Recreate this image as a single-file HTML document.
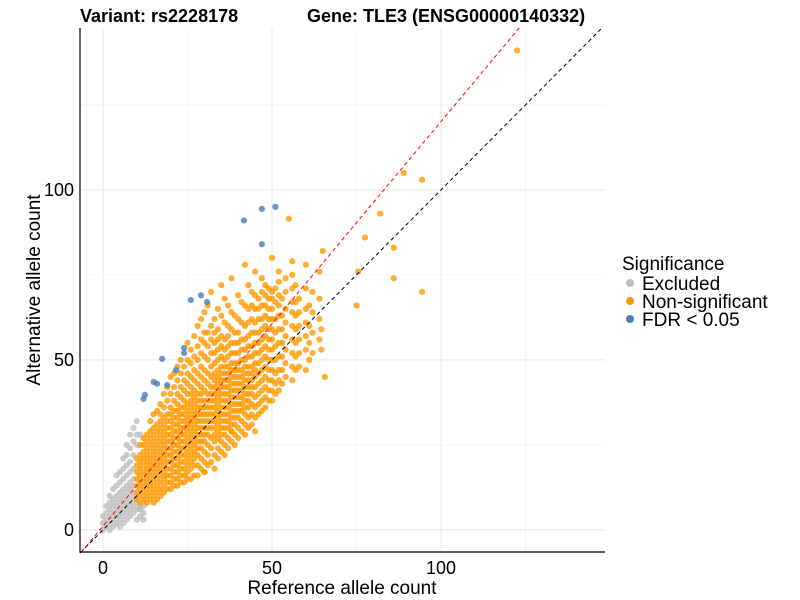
<!DOCTYPE html>
<html><head><meta charset="utf-8"><style>
body{margin:0;background:#fff}
svg{display:block;font-family:"Liberation Sans",sans-serif}
</style></head><body>
<svg id="chart" width="800" height="600">
<text x="80" y="22" font-size="18" font-weight="bold">Variant: rs2228178</text>
<text x="307" y="22" font-size="18" font-weight="bold">Gene: TLE3 (ENSG00000140332)</text>
<g id="grid"></g><g id="pts"></g><g id="lines"></g><g id="axes"></g>
<text x="342" y="594" font-size="19" text-anchor="middle">Reference allele count</text>
<text transform="translate(40,290) rotate(-90)" font-size="19" text-anchor="middle">Alternative allele count</text>
<g>
<text x="622" y="270" font-size="19">Significance</text>
<g><circle cx="630" cy="283" r="4" fill="#bebebe"/><text x="642" y="290" font-size="19">Excluded</text></g>
<g><circle cx="630" cy="301" r="4" fill="#ff9900"/><text x="642" y="308" font-size="19">Non-significant</text></g>
<g><circle cx="630" cy="319" r="4" fill="#4a7db5"/><text x="642" y="326" font-size="19">FDR &lt; 0.05</text></g>
</g>
</svg>
<script>
const xTicks=[0,50,100];
const yTicks=[0,50,100];
const minorTicks=[25,75,125];
const grayRefs=[0,1,2,3,4,5,6,7,8,9,10,11,12];
const grayAlts=[[0,2,4],[1,3,5,7],[0,2,4,6,8,10],[1,3,5,7,9,12],[2,4,6,8,10,13,16],[1,3,5,7,9,11,14,17],[2,4,6,8,10,12,15,18,21],[3,5,7,9,11,13,16,19,22,25],[4,6,8,10,12,14,17,20,24,28],[5,7,9,11,13,15,18,22,26,30],[3,6,8,10,25,28,32],[4,6,7,28],[5,7,8,3]];
const orangeRefs=[10,11,12,13,14,15,16,17,18,19,20,21,22,23,24,25,26,27,28,29,30,31,32,33,34,35,36,37,38,39,40,41,42,43,44,45,46,47,48,49,50,51,52,53,54,56,57,58,60,61,62,64];
const orangeAlts=[
[9,11,13,15,17,19,21],[8,10,12,14,16,18,20,22,25],[9,11,13,15,17,19,21,23,25,27],[8,10,12,14,16,18,20,22,24,26,28],
[9,11,13,15,17,19,21,23,25,27,29,32],[8,10,12,14,16,18,20,22,24,26,28,30,34],[9,11,13,15,17,19,21,23,25,27,29,31,35],
[10,12,14,16,18,20,22,24,26,28,30,32,34,37],[11,13,15,17,19,21,23,25,27,29,31,33,36,40],[12,14,16,18,20,22,24,26,28,30,32,34,38,42],
[12,14,16,18,20,22,24,26,28,30,32,34,36,40,45],[13,15,17,19,21,23,25,27,29,31,33,35,38,42,46],[13,15,17,19,21,23,25,27,29,31,33,35,37,40,44,48],
[14,16,18,20,22,24,26,28,30,32,34,36,39,42,46,50],[14,16,18,20,22,24,26,28,30,32,34,36,38,41,44,48],[15,17,19,21,23,25,27,29,31,33,35,37,40,43,46,50,55],
[15,18,20,22,24,26,28,30,32,34,36,38,40,42,45,49,53],[16,19,21,23,25,27,29,31,33,35,37,39,41,44,47,51,57],[16,19,22,24,26,28,30,32,34,36,38,40,43,46,50,54,60],
[18,21,24,26,28,30,32,34,36,38,40,42,45,48,52,56,62],[17,20,23,26,28,30,32,34,36,38,41,44,47,51,55,58,64],[19,22,25,28,30,32,34,36,38,40,43,46,50,54,58,66],
[20,24,27,30,32,34,36,38,40,42,45,48,52,56,60,70],[18,22,26,28,30,32,34,36,38,40,42,44,46,49,52,55,58,62],[21,24,27,29,31,33,35,37,39,41,43,45,47,50,53,56,59,65],
[23,26,28,30,32,34,36,38,40,42,44,46,48,51,54,57,63,72],[22,25,28,30,32,34,36,38,40,42,44,46,48,50,53,56,61,68],[24,27,30,32,34,36,38,40,42,44,46,48,51,54,57,60,66],
[26,29,31,33,35,37,39,41,43,45,47,49,52,55,59,64,74],[25,28,31,33,35,37,39,41,43,45,47,49,52,55,58,63],[27,30,33,35,37,39,41,43,45,47,49,52,55,58,62,69],
[29,32,35,37,39,41,43,45,47,50,53,56,61,67],[28,31,34,36,38,40,42,44,46,48,50,53,56,60,66,78],[30,33,36,38,40,42,44,46,48,51,54,57,61,65,72],
[31,34,37,40,42,44,46,48,51,54,58,62,66,70],[29,33,36,39,42,45,47,49,52,55,58,61,65,69,76],[34,37,40,43,46,49,52,55,58,62,65,68],[35,38,41,44,47,50,53,56,59,62,66,70,74],
[36,39,42,45,48,51,54,57,60,63,66,69,72],[38,41,44,47,50,53,56,59,62,65,68,71],[38,41,44,47,50,53,56,59,62,65,68,70,80],[40,43,46,50,54,58,62,67,71],[41,44,47,51,55,59,63,66,69,73,76],
[43,47,51,55,59,63,68],[45,49,53,57,61,65,70,74],[44,48,52,56,60,64,67,71,75,79],[47,51,55,59,63,67,72],[48,52,56,60,64,68],[47,53,57,61,65,71,78],[50,55,60,66],[52,58,64,70],[56,62,68]];
const outlierRefs=[122.5,89,94.4,82,86,86,94.4,75.5,77.5,75,55,65,64,64.6,64.6,65.6,38,30];
const outlierAlts=[141,105,103,93,83,74,70,76,86,66,91.5,82,76,59,53,45,29,17];
const blueRefs=[47,51,41.7,47,26,29,30.8,24,17.5,15,16,12.4,12,19,21.6,24];
const blueAlts=[94.4,95,91,84,67.6,69,67,53.5,50.3,43.5,43,39.7,38.5,42.6,47,52];
const redSlope=1.19, redIntercept=1.1;

const X0=80,X1=605,Y0=552,Y1=28,xmin=-6.8,xmax=148.5,ymin=-6.5,ymax=147.6;
const sx=v=>X0+(v-xmin)/(xmax-xmin)*(X1-X0);
const sy=v=>Y0-(v-ymin)/(ymax-ymin)*(Y0-Y1);
const NS='http://www.w3.org/2000/svg';
function mk(tag,attrs,parent){const e=document.createElementNS(NS,tag);for(const k in attrs)e.setAttribute(k,attrs[k]);document.getElementById(parent).appendChild(e);return e;}
minorTicks.forEach(t=>{
 let a=mk('line',{x1:sx(t),x2:sx(t),y1:Y1,y2:Y0,stroke:'#f0f0f0','stroke-width':0.6},'grid');
 
 
 let b=mk('line',{x1:X0,x2:X1,y1:sy(t),y2:sy(t),stroke:'#f0f0f0','stroke-width':0.6},'grid');
 
 
});
xTicks.forEach(t=>{
 let g=mk('line',{x1:sx(t),x2:sx(t),y1:Y1,y2:Y0,stroke:'#e6e6e6','stroke-width':1},'grid');
 
 
 let l=mk('text',{x:sx(t),y:Y0+22,'font-size':18,'text-anchor':'middle'},'axes');l.textContent=t;
 
 
});
yTicks.forEach(t=>{
 let g=mk('line',{x1:X0,x2:X1,y1:sy(t),y2:sy(t),stroke:'#e6e6e6','stroke-width':1},'grid');
 
 
 let l=mk('text',{x:X0-6,y:sy(t)+6,'font-size':18,'text-anchor':'end'},'axes');l.textContent=t;
 
 
});
function pt(x,y,c,name){const e=mk('circle',{cx:sx(x),cy:sy(y),r:3.1,fill:c,'fill-opacity':0.8},'pts');
 
 }
grayRefs.forEach((r,i)=>grayAlts[i].forEach(a=>pt(r,a,'#bebebe','excluded-point')));
orangeRefs.forEach((r,i)=>orangeAlts[i].forEach(a=>pt(r,a,'#ff9900','non-significant-point')));
outlierRefs.forEach((r,i)=>pt(r,outlierAlts[i],'#ff9900','non-significant-point'));
blueRefs.forEach((r,i)=>pt(r,blueAlts[i],'#4a7db5','fdr-point'));
let bl=mk('line',{x1:sx(xmin),y1:sy(xmin),x2:sx(ymax),y2:sy(ymax),stroke:'#000','stroke-width':1,'stroke-dasharray':'4,3'},'lines');


const rx0=(ymin-redIntercept)/redSlope, rx1=(ymax-redIntercept)/redSlope;
let rl=mk('line',{x1:sx(rx0),y1:sy(ymin),x2:sx(rx1),y2:sy(ymax),stroke:'#ff0000','stroke-width':1,'stroke-dasharray':'4,3'},'lines');


let ax=mk('path',{d:`M${X0},${Y1}V${Y0}H${X1}`,fill:'none',stroke:'#000','stroke-width':1.2},'axes');


</script>
</body></html>
